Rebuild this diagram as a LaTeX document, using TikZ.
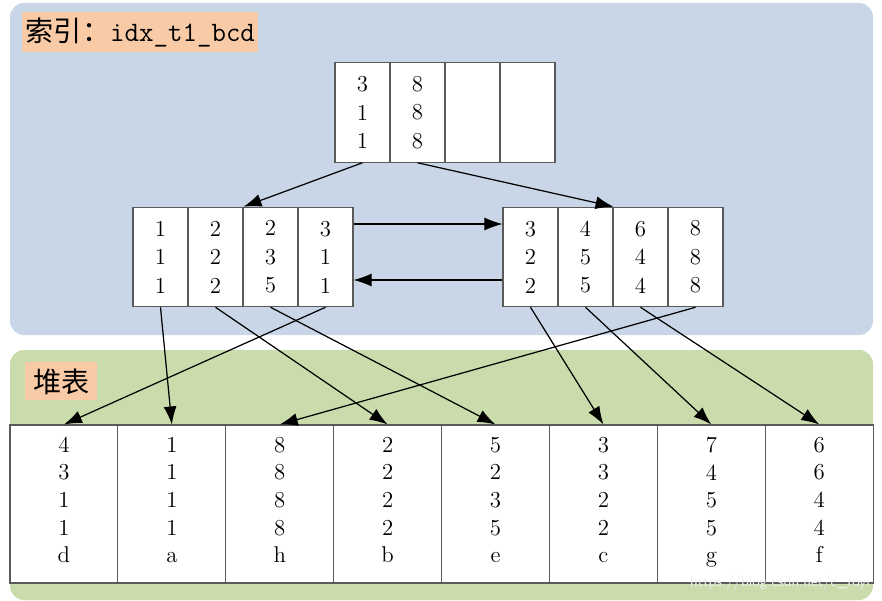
\documentclass[tikz,border=0pt]{standalone}
\usepackage{fontspec}
\newfontfamily\cjk{Noto Sans CJK SC}
\usetikzlibrary{arrows.meta}
\definecolor{PanelBlue}{HTML}{C9D6E7}
\definecolor{PanelGreen}{HTML}{CADCAB}
\definecolor{TagOrange}{HTML}{F9CAA6}
\definecolor{CellLine}{HTML}{5A5A5A}

\tikzset{
  tag/.style={fill=TagOrange, inner xsep=2pt, inner ysep=0pt, anchor=north west,
    font=\fontsize{16}{19}\selectfont},
  keycell/.style={draw=CellLine, line width=0.6pt, fill=white, inner sep=0pt,
    minimum width=1.1cm, minimum height=1.99cm, align=center,
    font=\fontsize{13}{16.2}\selectfont},
  rowcell/.style={draw=CellLine, line width=0.6pt, fill=white, inner sep=0pt,
    minimum width=2.158cm, minimum height=3.16cm, align=center,
    font=\fontsize{13}{15.7}\selectfont, execute at end node=\strut},
  ptr/.style={-{Latex[length=3.6mm,width=2.6mm]}, line width=0.7pt, black}
}

\begin{document}
\begin{tikzpicture}[x=0.02cm, y=-0.02cm]
\useasboundingbox (0,0) rectangle (882,601);

% panels
\fill[PanelBlue, rounded corners=8pt] (10,3) rectangle (873,335);
\fill[PanelGreen, rounded corners=8pt] (10,350) rectangle (873,600);

\node[tag, minimum height=0.8cm] (idxtag) at (22,12)
  {{\cjk 索引：}{\ttfamily idx\_t1\_bcd}};
\node[tag, minimum width=1.44cm, minimum height=0.76cm] (heaptag) at (25,362)
  {\cjk 堆表};

% root page
\node[keycell] (r1) at (362.5,112.5) {3\\1\\1};
\node[keycell] (r2) at (417.5,112.5) {8\\8\\8};
\node[keycell] (r3) at (472.5,112.5) {};
\node[keycell] (r4) at (527.5,112.5) {};

% leaf pages
\foreach \txt [count=\i] in {1\\1\\1, 2\\2\\2, 2\\3\\5, 3\\1\\1}
  \node[keycell] (a\i) at ({105.5+55*\i},257) {\txt};
\foreach \txt [count=\i] in {3\\2\\2, 4\\5\\5, 6\\4\\4, 8\\8\\8}
  \node[keycell] (b\i) at ({475.5+55*\i},257) {\txt};

% heap rows
\foreach \txt [count=\i] in {4\\3\\1\\1\\d, 1\\1\\1\\1\\a, 8\\8\\8\\8\\h, 2\\2\\2\\2\\b,
    5\\2\\3\\5\\e, 3\\3\\2\\2\\c, 7\\4\\5\\5\\g, 6\\6\\4\\4\\f}
  \node[rowcell] (h\i) at ({10+53.95+107.9*(\i-1)},504) {\txt};

\node[text=white!88!gray, font=\fontsize{8}{9}\sffamily] (mark) at (780,583)
  {https://blog.csdn.net/c\_royi};

% root -> leaves
\draw[ptr] (r1.south) -- (a2.north east);
\draw[ptr] (r2.south) -- (b2.north east);

% leaf links
\draw[ptr] ([yshift=0.66cm]a4.east) -- ([yshift=0.66cm]b1.west);
\draw[ptr] ([yshift=-0.46cm]b1.west) -- ([yshift=-0.46cm]a4.east);

% leaves -> heap
\draw[ptr] (a1.south) -- (h2.north);
\draw[ptr] (a2.south) -- (h4.north);
\draw[ptr] (a3.south) -- (h5.north);
\draw[ptr] (a4.south) -- (h1.north);
\draw[ptr] (b1.south) -- (h6.north);
\draw[ptr] (b2.south) -- (h7.north);
\draw[ptr] (b3.south) -- (h8.north);
\draw[ptr] (b4.south) -- (h3.north);

\end{tikzpicture}
\end{document}
